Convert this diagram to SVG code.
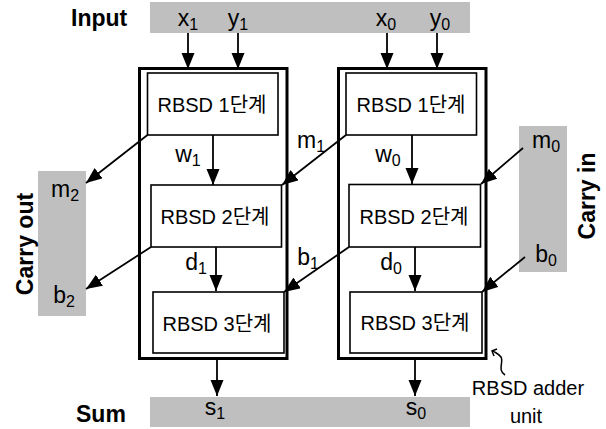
<svg xmlns="http://www.w3.org/2000/svg" width="606" height="429" viewBox="0 0 606 429">
<defs>
<marker id="ah" markerUnits="userSpaceOnUse" markerWidth="18" markerHeight="14" refX="16" refY="6.5" orient="auto">
<path d="M0,0 L16,6.5 L0,13 Z" fill="#000"/>
</marker>
<style>
.bar{fill:#bfbfbf;stroke:none}
.outer{fill:none;stroke:#000;stroke-width:3}
.stage{fill:#fff;stroke:#000;stroke-width:1.6}
.st{font-family:"Liberation Sans","Noto Sans CJK KR",sans-serif;font-size:20px;text-anchor:middle;fill:#000}
.lab{font-family:"Liberation Sans",sans-serif;font-size:23px;text-anchor:middle;fill:#000}
.sub{font-size:16px}
.big{font-family:"Liberation Sans",sans-serif;font-size:23px;font-weight:bold;fill:#000}
.ln{fill:none;stroke:#000;stroke-width:1.8;marker-end:url(#ah)}
.note{font-family:"Liberation Sans",sans-serif;font-size:20px;text-anchor:middle;fill:#000}
</style>
</defs>
<rect width="606" height="429" fill="#fff"/>

<g id="input-bar">
<rect class="bar" x="150" y="2" width="320" height="31"/>
<text class="big" x="71" y="26">Input</text>
<text class="lab" x="188" y="26">x<tspan class="sub" dy="4">1</tspan></text>
<text class="lab" x="238" y="26">y<tspan class="sub" dy="4">1</tspan></text>
<text class="lab" x="386" y="26">x<tspan class="sub" dy="4">0</tspan></text>
<text class="lab" x="440" y="26">y<tspan class="sub" dy="4">0</tspan></text>
</g>

<g id="sum-bar">
<rect class="bar" x="150" y="397" width="320" height="30"/>
<text class="big" x="76" y="422">Sum</text>
<text class="lab" x="215" y="415">s<tspan class="sub" dy="4">1</tspan></text>
<text class="lab" x="416" y="415">s<tspan class="sub" dy="4">0</tspan></text>
</g>

<g id="carry-out">
<rect class="bar" x="38" y="171" width="48" height="145"/>
<text class="big" transform="translate(33,244) rotate(-90)" text-anchor="middle">Carry out</text>
<text class="lab" x="65" y="197">m<tspan class="sub" dy="4">2</tspan></text>
<text class="lab" x="64" y="303">b<tspan class="sub" dy="4">2</tspan></text>
</g>

<g id="carry-in">
<rect class="bar" x="519" y="126" width="48" height="146"/>
<text class="big" transform="translate(595,196) rotate(-90)" text-anchor="middle">Carry in</text>
<text class="lab" x="546" y="148">m<tspan class="sub" dy="4">0</tspan></text>
<text class="lab" x="546" y="262">b<tspan class="sub" dy="4">0</tspan></text>
</g>

<g id="unit1">
<rect class="outer" x="139.5" y="68.5" width="147.5" height="290"/>
</g>
<g id="unit1-stage1">
<rect class="stage" x="147.5" y="73" width="130.5" height="62"/>
<text class="st" x="212" y="112">RBSD 1단계</text>
</g>
<g id="unit1-stage2">
<rect class="stage" x="151" y="185" width="130.5" height="62"/>
<text class="st" x="215" y="224">RBSD 2단계</text>
</g>
<g id="unit1-stage3">
<rect class="stage" x="153" y="292" width="131" height="61"/>
<text class="st" x="217" y="331">RBSD 3단계</text>
</g>

<g id="unit0">
<rect class="outer" x="338.5" y="68.5" width="147.5" height="290"/>
</g>
<g id="unit0-stage1">
<rect class="stage" x="346" y="73" width="130.5" height="62"/>
<text class="st" x="411" y="112">RBSD 1단계</text>
</g>
<g id="unit0-stage2">
<rect class="stage" x="349" y="184.5" width="131.5" height="62.5"/>
<text class="st" x="414" y="224">RBSD 2단계</text>
</g>
<g id="unit0-stage3">
<rect class="stage" x="350" y="292" width="132" height="61"/>
<text class="st" x="415" y="330">RBSD 3단계</text>
</g>

<g id="connectors">
<line class="ln" x1="188" y1="33" x2="188" y2="69"/>
<line class="ln" x1="238" y1="33" x2="238" y2="69"/>
<line class="ln" x1="387" y1="33" x2="387" y2="69"/>
<line class="ln" x1="437" y1="33" x2="437" y2="69"/>
<line class="ln" x1="213" y1="135" x2="213" y2="185"/>
<line class="ln" x1="216" y1="247" x2="216" y2="291"/>
<line class="ln" x1="412" y1="135" x2="412" y2="184"/>
<line class="ln" x1="415" y1="247" x2="415" y2="291"/>
<line class="ln" x1="217" y1="358" x2="217" y2="396"/>
<line class="ln" x1="415" y1="358" x2="415" y2="396"/>
<line class="ln" x1="147.5" y1="135" x2="86" y2="183"/>
<line class="ln" x1="151" y1="247" x2="86" y2="289"/>
<line class="ln" x1="346" y1="135" x2="282" y2="185"/>
<line class="ln" x1="349" y1="247" x2="284" y2="292"/>
<line class="ln" x1="523" y1="148" x2="481" y2="184"/>
<line class="ln" x1="525" y1="257" x2="482" y2="292"/>
<text class="lab" x="188" y="162">w<tspan class="sub" dy="4">1</tspan></text>
<text class="lab" x="196" y="270">d<tspan class="sub" dy="4">1</tspan></text>
<text class="lab" x="388" y="162">w<tspan class="sub" dy="4">0</tspan></text>
<text class="lab" x="391" y="270">d<tspan class="sub" dy="4">0</tspan></text>
<text class="lab" x="311" y="148">m<tspan class="sub" dy="4">1</tspan></text>
<text class="lab" x="308" y="265">b<tspan class="sub" dy="4">1</tspan></text>
</g>

<g id="unit-note">
<path d="M505,375 C497,370 504,362 501,357 C499,354 496,353 493,351" fill="none" stroke="#000" stroke-width="1.5"/>
<path d="M497,349 L492,351 L494,356" fill="none" stroke="#000" stroke-width="1.5"/>
<text class="note" x="528" y="395">RBSD adder</text>
<text class="note" x="526" y="423">unit</text>
</g>
</svg>
